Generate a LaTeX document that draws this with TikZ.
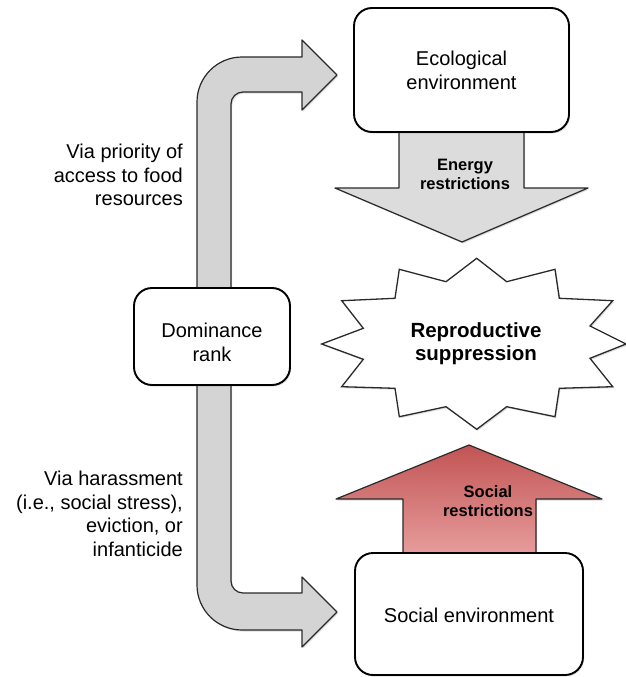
\documentclass[tikz,border=0pt]{standalone}
\usepackage{fontspec}
\setmainfont{Liberation Sans}
\usetikzlibrary{shadows}
\definecolor{arrowgray}{HTML}{D4D4D4}
\definecolor{energygray}{HTML}{DCDCDC}
\definecolor{socialtop}{HTML}{C25454}
\definecolor{socialbot}{HTML}{EBA3A3}
\definecolor{edgegray}{HTML}{2A2A2A}
\begin{document}
\begin{tikzpicture}[x=1pt,y=-1pt,
  softshadow/.style={drop shadow={shadow xshift=1.2pt, shadow yshift=-1.5pt, opacity=0.22, fill=black!60}},
  envbox/.style={draw=black, line width=1.9pt, fill=white, rounded corners=18pt, inner sep=0pt, softshadow},
  blockarrow/.style={draw=edgegray, line width=1.2pt, line join=round},
  plaintext/.style={font=\fontsize{20}{24}\selectfont, align=center, inner sep=0pt},
  sidetext/.style={font=\fontsize{20}{23.5}\selectfont, align=right, inner sep=0pt, anchor=east},
  boldsmall/.style={font=\fontsize{16.5}{19.5}\selectfont\bfseries, align=center, inner sep=0pt},
  boldbig/.style={font=\fontsize{20.5}{22.5}\selectfont\bfseries, align=center, inner sep=0pt}]
\useasboundingbox (0,0) rectangle (626,677);
\fill[white] (0,0) rectangle (626,677);

% named anchor points
\coordinate (etip) at (462,242);
\coordinate (stip) at (469,445);

% top bent arrow (towards ecological environment)
\draw[blockarrow, fill=arrowgray, softshadow]
  (197,330) -- (197,102) arc[start angle=180, end angle=270, radius=45]
  -- (302,57) -- (302,40) -- (337,75) -- (302,110) -- (302,92)
  -- (243,92) arc[start angle=270, end angle=180, radius=12] -- (231,330) -- cycle;

% bottom bent arrow (towards social environment)
\draw[blockarrow, fill=arrowgray, softshadow]
  (197,350) -- (197,585) arc[start angle=180, end angle=90, radius=45]
  -- (302,630) -- (302,647) -- (337,612) -- (302,577) -- (302,593)
  -- (243,593) arc[start angle=90, end angle=180, radius=12] -- (231,350) -- cycle;

% energy restrictions arrow
\draw[blockarrow, fill=energygray, softshadow]
  (399,120) -- (399,188) -- (335,188) -- (etip) -- (588,188) -- (524,188) -- (524,120) -- cycle;

% social restrictions arrow
\draw[blockarrow, top color=socialtop, bottom color=socialbot, softshadow]
  (403,565) -- (403,499) -- (336,499) -- (stip) -- (602,499) -- (536,499) -- (536,565) -- cycle;

% boxes
\node[envbox, minimum width=215pt, minimum height=124pt] (eco) at (461.5,70) {};
\node[plaintext] (ecot) at (461.5,70.7) {Ecological\\environment};

\node[envbox, minimum width=228pt, minimum height=122pt] (soc) at (469,614) {};
\node[plaintext] (soct) at (469,615.7) {Social environment};

\node[envbox, minimum width=156pt, minimum height=97pt] (dom) at (212,336.5) {};
\node[plaintext] (domt) at (212,342.7) {Dominance\\rank};

% arrow labels
\node[boldsmall] (energy) at (465,174.5) {Energy\\restrictions};
\node[boldsmall] (social) at (488,501) {Social\\restrictions};

% starburst
\draw[line width=1.3pt, draw=edgegray, fill=white, line join=miter, softshadow]
  (476.7,258.3) -- (506.7,281.7) -- (555,269.3) -- (559.3,298.3) -- (612.7,300.7)
  -- (590,326) -- (626,344) -- (590,358.3) -- (612.7,386.7) -- (559.3,388.3)
  -- (555,416.7) -- (506.7,406.7) -- (476.7,429.3) -- (446,406.7) -- (399.3,416.7)
  -- (395,388.3) -- (341.7,386.7) -- (363.3,359.3) -- (321.7,344) -- (363.3,328.3)
  -- (341.7,300.7) -- (395,298.3) -- (399.3,269.3) -- (446,281.7) -- cycle;
\node[boldbig] (repro) at (476,343.7) {Reproductive\\suppression};

% side labels
\node[sidetext] (via1) at (183,175.2) {Via priority of\\access to food\\resources};
\node[sidetext] (via2) at (183,513.7) {Via harassment\\(i.e., social stress),\\eviction, or\\infanticide};
\end{tikzpicture}
\end{document}
